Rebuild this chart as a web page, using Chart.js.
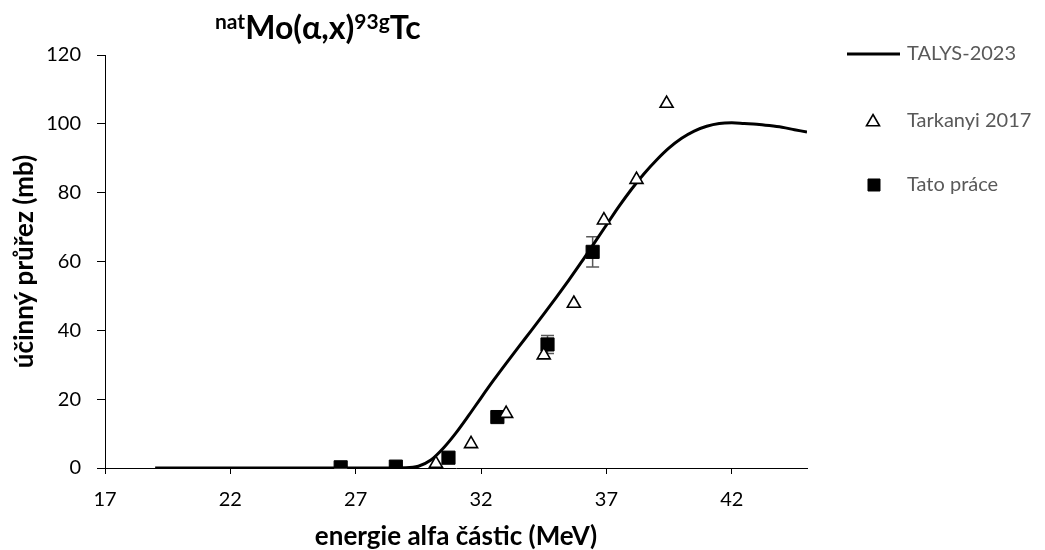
<!DOCTYPE html>
<html>
<head>
<meta charset="utf-8">
<script src="https://cdn.jsdelivr.net/npm/chart.js@4.4.1/dist/chart.umd.min.js"></script>
<style>
  html, body { margin: 0; padding: 0; background: #fff; }
  #wrap { width: 1045px; height: 550px; }
</style>
</head>
<body>
<div id="wrap"><canvas id="chart" width="1045" height="550"></canvas></div>
<script>
// TALYS-2023 model curve (energy in MeV, cross section in mb)
const talysE  = [19, 20, 22, 24, 26, 28, 29, 29.5, 30, 30.5, 31, 31.5, 32, 32.5, 33, 33.5, 34, 34.5, 35, 35.5, 36, 36.5, 37, 37.5, 38, 38.5, 39, 39.5, 40, 40.5, 41, 41.5, 42, 42.5, 43, 43.5, 44, 44.5, 45];
const talysXs = [0, 0, 0, 0, 0, 0, 0.05, 0.5, 2.3, 5.8, 10.2, 15.2, 20.4, 25.5, 30.4, 35.2, 39.9, 44.7, 49.6, 54.6, 59.8, 65.2, 70.6, 76, 81, 85.5, 89.5, 93, 95.8, 97.9, 99.3, 100.1, 100.3, 100.1, 99.9, 99.5, 99.0, 98.3, 97.6];

// Tarkanyi 2017
const tarkE  = [30.2, 31.6, 33.0, 34.5, 35.7, 36.9, 38.2, 39.4];
const tarkXs = [1.3, 7, 15.8, 32.8, 47.8, 72, 83.8, 105.9];

// Tato práce
const taE   = [26.4, 28.6, 30.7, 32.65, 34.65, 36.45];
const taXs  = [0.2, 0.4, 3.0, 14.8, 35.9, 62.8];
const taErr = [0.2, 0.2, 0.4, 1.0, 2.6, 4.4];

const xTicks = [17, 22, 27, 32, 37, 42];
const seriesNames = ["TALYS-2023", "Tarkanyi 2017", "Tato práce"];

const FONT = "Lato";

const toPoints = (xs, ys) => xs.map((x, i) => ({ x: x, y: ys[i] }));

// error bars for "Tato práce"
const errorBars = {
  id: "errorBars",
  beforeDatasetsDraw(chart) {
    const { ctx, scales } = chart;
    ctx.save();
    ctx.strokeStyle = "#595959";
    ctx.lineWidth = 1.5;
    taE.forEach((e, i) => {
      const px = scales.x.getPixelForValue(e);
      const top = scales.y.getPixelForValue(taXs[i] + taErr[i]);
      const bot = scales.y.getPixelForValue(taXs[i] - taErr[i]);
      ctx.beginPath();
      ctx.moveTo(px, top); ctx.lineTo(px, bot);
      ctx.moveTo(px - 6.5, top); ctx.lineTo(px + 6.5, top);
      ctx.moveTo(px - 6.5, bot); ctx.lineTo(px + 6.5, bot);
      ctx.stroke();
    });
    ctx.restore();
  }
};

// title with superscripts
const reactionTitle = {
  id: "reactionTitle",
  afterDraw(chart) {
    const ctx = chart.ctx;
    const parts = [["nat", true], ["Mo(α,x)", false], ["93g", true], ["Tc", false]];
    let x = 215;
    const base = 39;
    ctx.save();
    ctx.fillStyle = "#000";
    ctx.textAlign = "left";
    ctx.textBaseline = "alphabetic";
    parts.forEach(([t, sup]) => {
      ctx.font = sup ? `bold 21px ${FONT}` : `bold 32px ${FONT}`;
      ctx.fillText(t, x, sup ? base - 10 : base);
      x += ctx.measureText(t).width;
    });
    ctx.restore();
  }
};

// legend on the right, Excel style
const sideLegend = {
  id: "sideLegend",
  afterDraw(chart) {
    const ctx = chart.ctx;
    const ds = chart.data.datasets;
    const rows = [54, 121, 185];
    ctx.save();
    ctx.strokeStyle = "#000";
    ctx.lineWidth = 3;
    ctx.beginPath();
    ctx.moveTo(847, rows[0]); ctx.lineTo(900, rows[0]);
    ctx.stroke();

    ctx.fillStyle = ds[1].backgroundColor;
    ctx.strokeStyle = ds[1].borderColor;
    ctx.lineWidth = ds[1].borderWidth;
    Chart.helpers.drawPoint(ctx, { pointStyle: "triangle", radius: ds[1].pointRadius, borderWidth: ds[1].borderWidth, rotation: 0 }, 873, rows[1] + 1);

    ctx.fillStyle = ds[2].backgroundColor;
    ctx.strokeStyle = ds[2].borderColor;
    ctx.lineWidth = 1;
    Chart.helpers.drawPoint(ctx, { pointStyle: "rect", radius: 8.5, borderWidth: 1, rotation: 0 }, 874, rows[2]);

    ctx.fillStyle = "#595959";
    ctx.font = `20px ${FONT}`;
    ctx.textAlign = "left";
    ctx.textBaseline = "middle";
    seriesNames.forEach((n, i) => ctx.fillText(n, 907, rows[i]));
    ctx.restore();
  }
};

new Chart(document.getElementById("chart").getContext("2d"), {
  type: "scatter",
  data: {
    datasets: [
      {
        label: seriesNames[0],
        data: toPoints(talysE, talysXs),
        showLine: true,
        borderColor: "#000",
        borderWidth: 3,
        pointRadius: 0,
        cubicInterpolationMode: "monotone",
        order: 3
      },
      {
        label: seriesNames[1],
        data: toPoints(tarkE, tarkXs),
        pointStyle: "triangle",
        pointRadius: 7.5,
        borderWidth: 1.6,
        borderColor: "#000",
        backgroundColor: "#fff",
        order: 1
      },
      {
        label: seriesNames[2],
        data: toPoints(taE, taXs),
        pointStyle: "rect",
        pointRadius: 9.3,
        borderWidth: 1,
        borderColor: "#000",
        backgroundColor: "#000",
        order: 2
      }
    ]
  },
  options: {
    responsive: false,
    animation: false,
    layout: { padding: { left: 0, top: 55, right: 238, bottom: 0 } },
    plugins: {
      legend: { display: false },
      tooltip: { enabled: false },
      title: { display: false }
    },
    scales: {
      x: {
        type: "linear",
        min: 17,
        max: 45,
        afterBuildTicks: s => { s.ticks = xTicks.map(v => ({ value: v })); },
        afterFit: s => { s.height = 82; },
        grid: { drawOnChartArea: false, drawTicks: true, tickLength: 6, color: "#000" },
        border: { display: true, color: "#000", width: 1 },
        ticks: { color: "#000", font: { family: FONT, size: 20 }, padding: 14, maxRotation: 0, autoSkip: false },
        title: {
          display: true,
          text: "energie alfa částic (MeV)",
          color: "#000",
          font: { family: FONT, size: 26, weight: "bold", lineHeight: 1 },
          padding: { top: 0, bottom: 0 }
        }
      },
      y: {
        type: "linear",
        min: 0,
        max: 120,
        afterFit: s => { s.width = 105; },
        grid: { drawOnChartArea: false, drawTicks: true, tickLength: 8, color: "#000" },
        border: { display: true, color: "#000", width: 1 },
        ticks: { stepSize: 20, color: "#000", font: { family: FONT, size: 20 }, padding: 16 },
        title: {
          display: true,
          text: "účinný průřez (mb)",
          color: "#000",
          font: { family: FONT, size: 26, weight: "bold", lineHeight: 1 },
          padding: { top: 12, bottom: 0 }
        }
      }
    }
  },
  plugins: [errorBars, reactionTitle, sideLegend]
});
</script>
</body>
</html>
